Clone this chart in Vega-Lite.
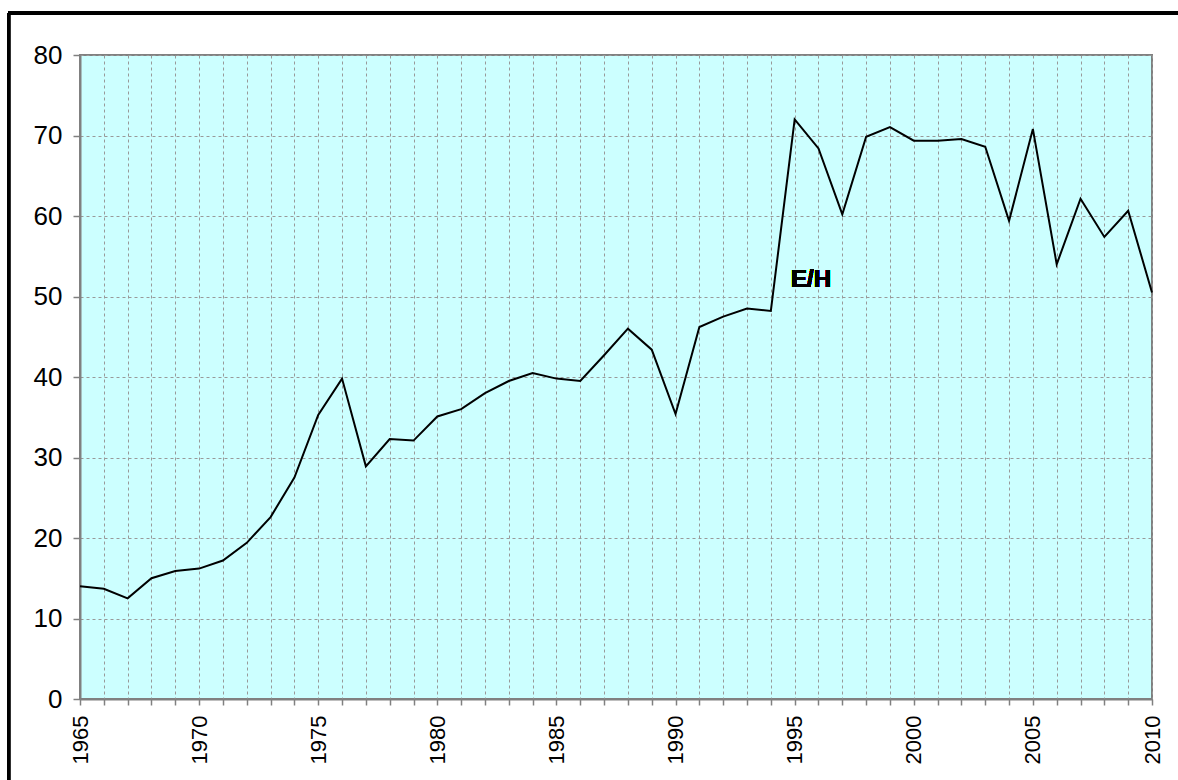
{
  "$schema": "https://vega.github.io/schema/vega-lite/v6.json",
  "autosize": {"type": "none"},
  "width": 1072,
  "height": 644,
  "padding": {"left": 80, "top": 55, "right": 26, "bottom": 81},
  "background": "white",
  "config": {
    "font": "Liberation Sans",
    "view": {"fill": "#CCFFFF", "stroke": "#808080", "strokeWidth": 2},
    "axis": {
      "title": null,
      "labelColor": "black",
      "labelOverlap": false,
      "labelFlush": false,
      "labelBound": false,
      "tickColor": "#808080",
      "tickWidth": 1.5,
      "domainColor": "#808080",
      "domainWidth": 2,
      "grid": true,
      "gridColor": "#999999",
      "gridDash": [3, 3],
      "gridWidth": 1
    },
    "axisX": {
      "labelAngle": -90,
      "labelFontSize": 22,
      "labelPadding": 10,
      "tickSize": 6,
      "tickCount": 100
    },
    "axisY": {
      "labelFontSize": 26,
      "labelPadding": 11,
      "tickSize": 7,
      "tickCount": 20
    }
  },
  "data": {
    "values": [
      {"year": 1965, "value": 14.0},
      {"year": 1966, "value": 13.7},
      {"year": 1967, "value": 12.5},
      {"year": 1968, "value": 15.0},
      {"year": 1969, "value": 15.9},
      {"year": 1970, "value": 16.2},
      {"year": 1971, "value": 17.2},
      {"year": 1972, "value": 19.4},
      {"year": 1973, "value": 22.6},
      {"year": 1974, "value": 27.5},
      {"year": 1975, "value": 35.3},
      {"year": 1976, "value": 39.8},
      {"year": 1977, "value": 28.9},
      {"year": 1978, "value": 32.3},
      {"year": 1979, "value": 32.1},
      {"year": 1980, "value": 35.1},
      {"year": 1981, "value": 36.0},
      {"year": 1982, "value": 38.0},
      {"year": 1983, "value": 39.5},
      {"year": 1984, "value": 40.5},
      {"year": 1985, "value": 39.8},
      {"year": 1986, "value": 39.5},
      {"year": 1987, "value": 42.7},
      {"year": 1988, "value": 46.0},
      {"year": 1989, "value": 43.4},
      {"year": 1990, "value": 35.4},
      {"year": 1991, "value": 46.2},
      {"year": 1992, "value": 47.5},
      {"year": 1993, "value": 48.5},
      {"year": 1994, "value": 48.2},
      {"year": 1995, "value": 72.0},
      {"year": 1996, "value": 68.4},
      {"year": 1997, "value": 60.2},
      {"year": 1998, "value": 69.85},
      {"year": 1999, "value": 71.05},
      {"year": 2000, "value": 69.35},
      {"year": 2001, "value": 69.35},
      {"year": 2002, "value": 69.55},
      {"year": 2003, "value": 68.6},
      {"year": 2004, "value": 59.4},
      {"year": 2005, "value": 70.8},
      {"year": 2006, "value": 54.0},
      {"year": 2007, "value": 62.15},
      {"year": 2008, "value": 57.4},
      {"year": 2009, "value": 60.65},
      {"year": 2010, "value": 50.5}
    ]
  },
  "layer": [
    {
      "mark": {"type": "line", "color": "black", "strokeWidth": 2},
      "encoding": {
        "x": {
          "field": "year",
          "type": "quantitative",
          "scale": {"domain": [1965, 2010], "nice": false, "zero": false},
          "axis": {
            "title": null,
            "values": [1965,1966,1967,1968,1969,1970,1971,1972,1973,1974,1975,1976,1977,1978,1979,1980,1981,1982,1983,1984,1985,1986,1987,1988,1989,1990,1991,1992,1993,1994,1995,1996,1997,1998,1999,2000,2001,2002,2003,2004,2005,2006,2007,2008,2009,2010],
            "labelExpr": "datum.value % 5 == 0 ? datum.label : ''",
            "format": "d",
            "tickCount": 100,
            "labelOverlap": false
          }
        },
        "y": {
          "field": "value",
          "type": "quantitative",
          "scale": {"domain": [0, 80], "nice": false},
          "axis": {
            "title": null,
            "values": [0, 10, 20, 30, 40, 50, 60, 70, 80]
          }
        }
      }
    },
    {
      "mark": {"type": "text", "text": "E/H", "fontSize": 24, "fontWeight": "bold", "align": "left", "baseline": "alphabetic", "color": "black"},
      "encoding": {
        "x": {"datum": 1994.85, "type": "quantitative"},
        "y": {"datum": 51.15, "type": "quantitative"}
      }
    },
    {
      "mark": {"type": "rule", "color": "black", "strokeWidth": 3, "clip": false},
      "encoding": {
        "x": {"datum": 1962.0, "type": "quantitative"},
        "y": {"datum": -15, "type": "quantitative"},
        "y2": {"datum": 85.22}
      }
    },
    {
      "mark": {"type": "rule", "color": "black", "strokeWidth": 3, "clip": false},
      "encoding": {
        "y": {"datum": 85.22, "type": "quantitative"},
        "x": {"datum": 1962.0, "type": "quantitative"},
        "x2": {"datum": 2015}
      }
    }
  ]
}
